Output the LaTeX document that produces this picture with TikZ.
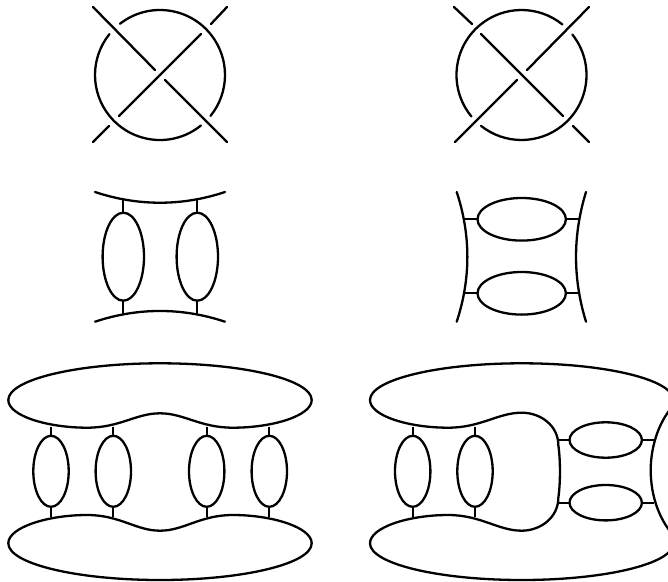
\documentclass[tikz,border=0pt]{standalone}
\begin{document}
\begin{tikzpicture}[x=1bp,y=-1bp,line width=2.3bp,line join=round]
\useasboundingbox (0,0) rectangle (668,582);
\clip (0,0) rectangle (668,582);
\tikzset{rnd/.style={line cap=round},
  vring/.style={x radius=20.7bp,y radius=44bp},
  hring/.style={x radius=44.2bp,y radius=21.3bp},
  vsmall/.style={x radius=17.7bp,y radius=35.5bp},
  hsmall/.style={x radius=36.2bp,y radius=17.7bp}}
% top left knot
\begin{scope}[rnd]
\draw (93,7) -- (155,70);
\draw (165,80) -- (227,142);
\draw (93,142) -- (109,126);
\draw (119,116) -- (201,34);
\draw (211,24) -- (227,7);
\draw (160,75) ++(128:65bp) arc[start angle=128,end angle=-39,radius=65bp];
\draw (160,75) ++(-51:65bp) arc[start angle=-51,end angle=-219,radius=65bp];
% top right knot
\draw (454,7) -- (472,24);
\draw (481,34) -- (563,116);
\draw (573,126) -- (589,142);
\draw (589,7) -- (527,70);
\draw (517,80) -- (455,142);
\draw (521.5,75) ++(219.6:65bp) arc[start angle=219.6,end angle=51,radius=65bp];
\draw (521.5,75) ++(38.5:65bp) arc[start angle=38.5,end angle=-128.5,radius=65bp];
% middle left arcs
\draw (95,192) .. controls (138,206.3) and (182,206.3) .. (225,192);
\draw (95,321.7) .. controls (138,307.4) and (182,307.4) .. (225,321.7);
% middle right arcs
\draw (456.7,192) .. controls (470.9,235) and (470.9,278.7) .. (456.7,321.7);
\draw (586,192) .. controls (572.7,235) and (572.7,278.7) .. (586,321.7);
\end{scope}
% middle left rings
\foreach \x in {123.3,197.3}{
  \draw (\x,256.7) ellipse[vring];
  \draw (\x,199.5) -- (\x,212.7);
  \draw (\x,300.7) -- (\x,314);
}
% middle right rings
\foreach \y in {219.3,293.3}{
  \draw (521.7,\y) ellipse[hring];
  \draw (464,\y) -- (477.5,\y);
  \draw (566,\y) -- (579.5,\y);
}
% bottom left blobs
\draw (8.3,400) .. controls (8.3,379.7) and (76.2,363.3) .. (160,363.3)
  .. controls (243.8,363.3) and (311.7,379.7) .. (311.7,400)
  .. controls (311.7,416) and (272,427.7) .. (233,427.7)
  .. controls (200,427.7) and (184,413.3) .. (160,413.3)
  .. controls (136,413.3) and (120,427.7) .. (87,427.7)
  .. controls (48,427.7) and (8.3,416) .. cycle;
\draw (8.3,543.3) .. controls (8.3,563.6) and (76.2,580) .. (160,580)
  .. controls (243.8,580) and (311.7,563.6) .. (311.7,543.3)
  .. controls (311.7,527.3) and (272,515) .. (233,515)
  .. controls (200,515) and (184,530.7) .. (160,530.7)
  .. controls (136,530.7) and (120,515) .. (87,515)
  .. controls (48,515) and (8.3,527.3) .. cycle;
\foreach \x in {51,113.3,206.7,269.3}{
  \draw (\x,471.3) ellipse[vsmall];
  \draw (\x,426.5) -- (\x,435.8);
  \draw (\x,506.8) -- (\x,517);
}
% bottom right blob
\draw (370,400) .. controls (370,379.7) and (437.9,363.3) .. (521.7,363.3)
  .. controls (605.5,363.3) and (673.4,379.7) .. (673.4,400);
\draw (370,400) .. controls (370,416) and (409,427.7) .. (448,427.7)
  .. controls (481,427.7) and (498,412.7) .. (521.7,412.7)
  .. controls (541,412.7) and (558.3,426) .. (558.3,445)
  .. controls (560.5,460) and (560.5,483) .. (558.3,498)
  .. controls (558.3,517) and (541,530.7) .. (521.7,530.7)
  .. controls (498,530.7) and (481,515) .. (448,515)
  .. controls (409,515) and (370,527.3) .. (370,543.3)
  .. controls (370,563.6) and (437.9,580) .. (521.7,580)
  .. controls (605.5,580) and (673.4,563.6) .. (673.4,543.3);
\draw (676,403) .. controls (660,418) and (650.7,445) .. (650.7,470)
  .. controls (650.7,497) and (660,522) .. (676,538);
\foreach \x in {412.7,475}{
  \draw (\x,471.3) ellipse[vsmall];
  \draw (\x,426.5) -- (\x,435.8);
  \draw (\x,506.8) -- (\x,517);
}
\foreach \y in {440,502.7}{
  \draw (605.7,\y) ellipse[hsmall];
  \draw (558.3,\y) -- (569.5,\y);
  \draw (641.9,\y) -- (654,\y);
}
\end{tikzpicture}
\end{document}
